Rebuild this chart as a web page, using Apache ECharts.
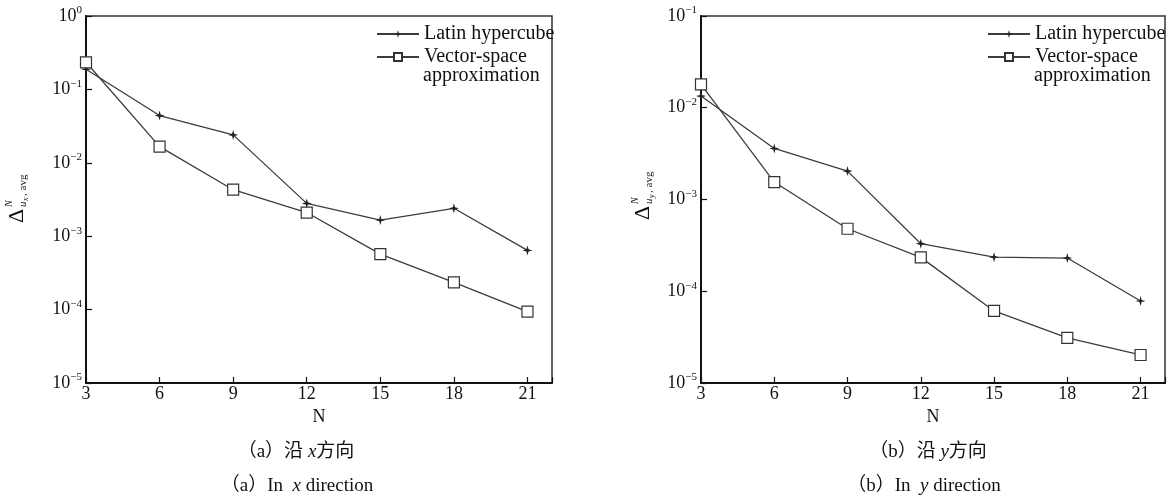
<!DOCTYPE html>
<html>
<head>
<meta charset="utf-8">
<script src="https://cdn.jsdelivr.net/npm/echarts@6/dist/echarts.min.js"></script>
<style>
html,body{margin:0;padding:0;background:#fff;}
#chart{width:1168px;height:496px;}
</style>
</head>
<body>
<div id="chart"></div>
<script>
// ---- data ----
const N = [3, 6, 9, 12, 15, 18, 21];
const latinX = [0.188, 0.044, 0.024, 0.0028, 0.00166, 0.0024, 0.00064];
const vsaX   = [0.234, 0.0166, 0.0043, 0.0021, 0.00057, 0.000235, 0.000094];
const latinY = [0.0134, 0.0036, 0.00204, 0.00033, 0.000235, 0.00023, 0.0000783];
const vsaY   = [0.018, 0.00155, 0.00048, 0.000234, 0.000061, 0.000031, 0.0000202];
const seriesNames = ['Latin hypercube', 'Vector-space approximation'];
const xTicks = [3, 6, 9, 12, 15, 18, 21];
// caption parts: [prefix, italic variable, suffix]
const captions = [
  ['（a）沿 ', 'x', '方向'],
  ['（a）In  ', 'x', ' direction'],
  ['（b）沿 ', 'y', '方向'],
  ['（b）In  ', 'y', ' direction']
];

const SERIF = '"Liberation Serif","Times New Roman",serif';
const CJK = '"Liberation Serif","Noto Sans CJK SC",serif';
const starPath = 'path://M0,-6 L1.3,-1.3 L6,0 L1.3,1.3 L0,6 L-1.3,1.3 L-6,0 L-1.3,-1.3 Z';
const lineColor = '#3c3c3c';

function pairs(xs, ys){ return xs.map((x,i)=>[x, ys[i]]); }

function supLabel(v){
  const e = Math.round(Math.log10(v));
  return '{b|10}{s|' + (e < 0 ? '\u2212' + (-e) : e) + '}';
}

const grids = [
  {left: 86, top: 16, width: 466, height: 367},
  {left: 701, top: 16, width: 465, height: 367}
];

function xAxis(i){
  return {
    type: 'value', gridIndex: i, min: 3, max: 22, interval: 3,
    name: 'N', nameLocation: 'middle', nameGap: 21,
    nameTextStyle: {fontFamily: SERIF, fontSize: 18, color: '#111'},
    axisLine: {show: true, onZero: false, lineStyle: {color: '#111', width: 2}},
    axisTick: {show: true, inside: true, length: 6, lineStyle: {color: '#111', width: 1.2}},
    axisLabel: {fontFamily: SERIF, fontSize: 18, color: '#111', margin: 2,
      formatter: v => xTicks.indexOf(v) >= 0 ? String(v) : ''},
    splitLine: {show: false}
  };
}
function yAxis(i, min, max){
  return {
    type: 'log', logBase: 10, gridIndex: i, min: min, max: max,
    axisLine: {show: true, lineStyle: {color: '#111', width: 2}},
    axisTick: {show: true, inside: true, length: 6, lineStyle: {color: '#111', width: 1.2}},
    minorTick: {show: false},
    axisLabel: {
      margin: 4, color: '#111', formatter: supLabel,
      rich: {
        b: {fontFamily: SERIF, fontSize: 18, lineHeight: 22, color: '#111'},
        s: {fontFamily: SERIF, fontSize: 11, lineHeight: 12, verticalAlign: 'top', color: '#111'}
      }
    },
    splitLine: {show: false}
  };
}

function ser(name, data, gi, star){
  return {
    name: name, type: 'line', xAxisIndex: gi, yAxisIndex: gi, data: data,
    symbol: star ? starPath : 'rect',
    symbolSize: star ? 10 : 11,
    showAllSymbol: true,
    lineStyle: {color: lineColor, width: 1.3},
    itemStyle: star ? {color: '#222', borderWidth: 0} : {color: '#fff', borderColor: '#333', borderWidth: 1.2},
    emphasis: {disabled: true},
    animation: false
  };
}

function legend(left){
  return {
    orient: 'vertical', left: left, top: 19,
    itemWidth: 42, itemHeight: 10, itemGap: 3,
    data: seriesNames,
    formatter: n => n === seriesNames[1] ? 'Vector-space' : n,
    textStyle: {fontFamily: SERIF, fontSize: 20, lineHeight: 20, color: '#111'},
    selectedMode: false
  };
}

function legendCont(x, y){
  return {type: 'text', x: x, y: y, style: {text: 'approximation', font: '20px ' + SERIF, fill: '#111', textVerticalAlign: 'middle'}};
}

function yTitle(x, y, sub){
  return {
    type: 'group', x: x, y: y, rotation: Math.PI / 2,
    children: [
      {type: 'text', x: 0, y: 0, style: {text: 'Δ', font: '22px ' + SERIF, fill: '#111', textVerticalAlign: 'middle'}},
      {type: 'text', x: 16, y: -8, style: {text: 'N', font: 'italic 10px ' + SERIF, fill: '#111', textVerticalAlign: 'middle'}},
      {type: 'text', x: 16, y: 6, style: {text: 'u', font: 'italic 11px ' + SERIF, fill: '#111', textVerticalAlign: 'middle'}},
      {type: 'text', x: 22, y: 9, style: {text: sub, font: 'italic 8px ' + SERIF, fill: '#111', textVerticalAlign: 'middle'}},
      {type: 'text', x: 27, y: 6, style: {text: ', avg', font: '11px ' + SERIF, fill: '#111', textVerticalAlign: 'middle'}}
    ]
  };
}

function caption(parts, x, y){
  return {type: 'text', x: x, y: y, style: {
    text: '{n|' + parts[0] + '}{i|' + parts[1] + '}{n|' + parts[2] + '}',
    rich: {
      n: {fontFamily: CJK, fontSize: 19, fill: '#111'},
      i: {fontFamily: SERIF, fontStyle: 'italic', fontSize: 19, fill: '#111'}
    },
    textAlign: 'center', textVerticalAlign: 'middle'}};
}

const chart = echarts.init(document.getElementById('chart'), null, {renderer: 'canvas'});

chart.setOption({
  backgroundColor: '#fff',
  animation: false,
  grid: grids.map(g => Object.assign({show: true, borderColor: '#333', borderWidth: 1.5, backgroundColor: 'transparent'}, g)),
  xAxis: [xAxis(0), xAxis(1)],
  yAxis: [yAxis(0, 1e-5, 1), yAxis(1, 1e-5, 1e-1)],
  legend: [legend(371), legend(982)],
  series: [
    ser(seriesNames[0], pairs(N, latinX), 0, true),
    ser(seriesNames[1], pairs(N, vsaX), 0, false),
    ser(seriesNames[0], pairs(N, latinY), 1, true),
    ser(seriesNames[1], pairs(N, vsaY), 1, false)
  ],
  graphic: [
    legendCont(423, 76),
    legendCont(1034, 76),
    yTitle(17, 223, 'x'),
    yTitle(643, 220, 'y'),
    caption(captions[0], 296, 452),
    caption(captions[1], 297, 486),
    caption(captions[2], 928, 452),
    caption(captions[3], 924, 486)
  ]
});
</script>
</body>
</html>
